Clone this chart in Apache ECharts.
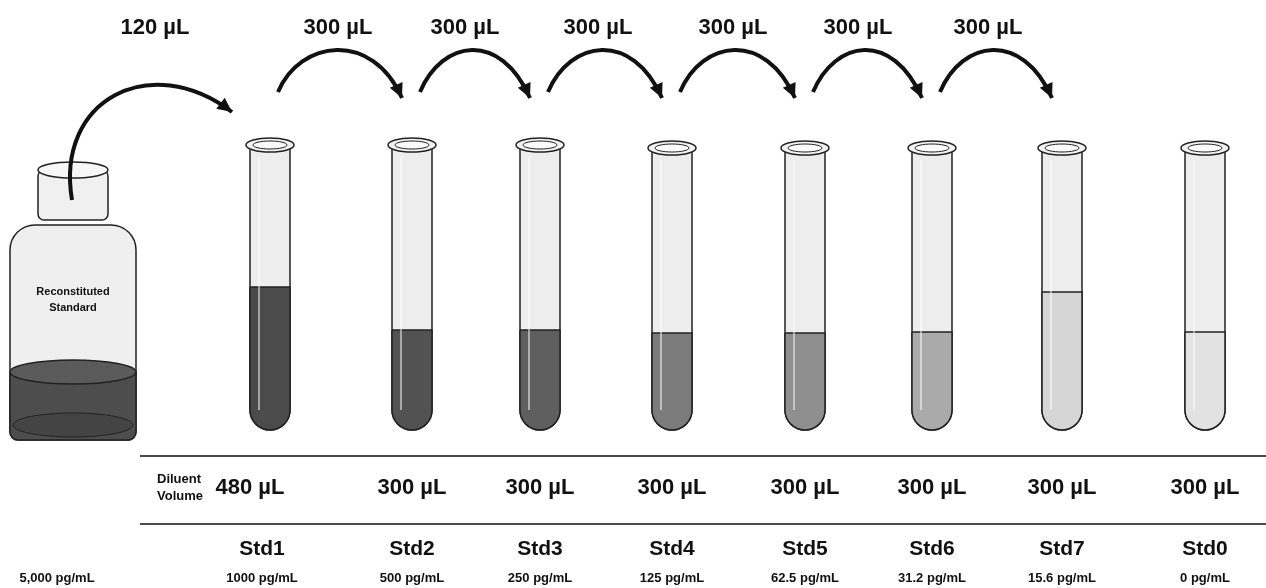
<!DOCTYPE html>
<html><head><meta charset="UTF-8">
<script src="https://cdn.jsdelivr.net/npm/echarts@6/dist/echarts.min.js"></script>
</head><body style="margin:0;background:#fff">
<div id="main" style="width:1266px;height:588px;"></div>
<script>
// tube data
var tubeNames = ['Std1','Std2','Std3','Std4','Std5','Std6','Std7','Std0'];
var tubeX = [270, 412, 540, 672, 805, 932, 1062, 1205];
var tubeTop = [145, 145, 145, 148, 148, 148, 148, 148];
var fillLevel = [287, 330, 330, 333, 333, 332, 292, 332];
var fillColor = ['#4b4b4b','#525252','#5f5f5f','#7b7b7b','#8f8f8f','#aaaaaa','#d6d6d6','#e2e2e2'];
var diluent = ['480 µL','300 µL','300 µL','300 µL','300 µL','300 µL','300 µL','300 µL'];
var concLabels = ['1000 pg/mL','500 pg/mL','250 pg/mL','125 pg/mL','62.5 pg/mL','31.2 pg/mL','15.6 pg/mL','0 pg/mL'];
var transferLabels = ['120 µL','300 µL','300 µL','300 µL','300 µL','300 µL','300 µL'];
var labelX = [155, 338, 465, 598, 733, 858, 988];
var stockConc = '5,000 pg/mL';
var tubeBottom = 430, tubeW = 40;

function arrowHead(x, y, ang) {
  var L = 16, s = 0.45;
  return [[x, y],
    [x - L*Math.cos(ang - s), y - L*Math.sin(ang - s)],
    [x - L*Math.cos(ang + s), y - L*Math.sin(ang + s)]];
}

var chart = echarts.init(document.getElementById('main'));
chart.setOption({
  animation: false,
  grid: {left: 0, right: 0, top: 0, bottom: 0},
  xAxis: {type: 'value', min: 0, max: 1266, show: false},
  yAxis: {type: 'value', min: 0, max: 588, inverse: true, show: false},
  series: [
    { // tubes
      type: 'custom',
      data: tubeX.map(function (x, i) { return [x, tubeTop[i], fillLevel[i], i]; }),
      renderItem: function (params, api) {
        var i = api.value(3);
        var c = api.coord([api.value(0), api.value(1)]);
        var lv = api.coord([0, api.value(2)])[1];
        var bt = api.coord([0, tubeBottom])[1];
        var x0 = c[0] - tubeW/2, r = tubeW/2;
        return {type: 'group', children: [
          {type: 'rect', shape: {x: x0, y: c[1], width: tubeW, height: bt - c[1], r: [0,0,r,r]},
            style: {fill: '#ededed', stroke: '#222', lineWidth: 1.5}},
          {type: 'rect', shape: {x: x0, y: lv, width: tubeW, height: bt - lv, r: [0,0,r,r]},
            style: {fill: fillColor[i], stroke: '#222', lineWidth: 1.5}},
          {type: 'ellipse', shape: {cx: c[0], cy: c[1], rx: r + 4, ry: 7},
            style: {fill: '#f2f2f2', stroke: '#222', lineWidth: 1.5}},
          {type: 'ellipse', shape: {cx: c[0], cy: c[1], rx: r - 3, ry: 4},
            style: {fill: '#fafafa', stroke: '#222', lineWidth: 1}},
          {type: 'line', shape: {x1: c[0] - r*0.55, y1: c[1] + 12, x2: c[0] - r*0.55, y2: bt - 20},
            style: {stroke: 'rgba(255,255,255,0.5)', lineWidth: 2}},
          {type: 'text', x: c[0] + (i === 0 ? -20 : 0), y: 488, style: {text: diluent[i], font: 'bold 22px Liberation Sans', fill: '#111', align: 'center', verticalAlign: 'middle'}},
          {type: 'text', x: c[0] - (i === 0 ? 8 : 0), y: 549, style: {text: tubeNames[i], font: 'bold 21px Liberation Sans', fill: '#111', align: 'center', verticalAlign: 'middle'}},
          {type: 'text', x: c[0] - (i === 0 ? 8 : 0), y: 578, style: {text: concLabels[i], font: 'bold 13px Liberation Sans', fill: '#111', align: 'center', verticalAlign: 'middle'}}
        ]};
      }
    },
    { // transfer arrows
      type: 'custom',
      data: labelX.map(function (x, i) { return [x, i]; }),
      renderItem: function (params, api) {
        var i = api.value(1);
        var lx = api.coord([api.value(0), 28]);
        var p1, p2, c1, c2;
        if (i === 0) {
          p1 = [72, 200]; c1 = [55, 100]; c2 = [150, 50]; p2 = [232, 112];
        } else {
          var a = tubeX[i-1], b = tubeX[i];
          p1 = [a + 8, 92]; c1 = [a + 30, 40]; c2 = [b - 40, 30]; p2 = [b - 10, 98];
        }
        var ang = Math.atan2(p2[1] - c2[1], p2[0] - c2[0]);
        return {type: 'group', children: [
          {type: 'bezierCurve', shape: {x1: p1[0], y1: p1[1], cpx1: c1[0], cpy1: c1[1], cpx2: c2[0], cpy2: c2[1], x2: p2[0], y2: p2[1]},
            style: {stroke: '#111', lineWidth: 4, fill: null}},
          {type: 'polygon', shape: {points: arrowHead(p2[0], p2[1], ang)}, style: {fill: '#111'}},
          {type: 'text', x: lx[0], y: lx[1], style: {text: transferLabels[i], font: 'bold 22px Liberation Sans', fill: '#111', align: 'center', verticalAlign: 'middle'}}
        ]};
      }
    }
  ],
  graphic: [
    // bottle
    {type: 'rect', shape: {x: 38, y: 170, width: 70, height: 50, r: 6}, style: {fill: '#f0f0f0', stroke: '#222', lineWidth: 1.5}},
    {type: 'ellipse', shape: {cx: 73, cy: 170, rx: 35, ry: 8}, style: {fill: '#f7f7f7', stroke: '#222', lineWidth: 1.5}},
    {type: 'rect', shape: {x: 10, y: 225, width: 126, height: 215, r: [25,25,8,8]}, style: {fill: '#efefef', stroke: '#222', lineWidth: 1.5}},
    {type: 'rect', shape: {x: 10, y: 372, width: 126, height: 68, r: [0,0,8,8]}, style: {fill: '#4d4d4d', stroke: '#222', lineWidth: 1.5}},
    {type: 'ellipse', shape: {cx: 73, cy: 372, rx: 63, ry: 12}, style: {fill: '#5a5a5a', stroke: '#222', lineWidth: 1.5}},
    {type: 'ellipse', shape: {cx: 73, cy: 425, rx: 60, ry: 12}, style: {fill: '#444', stroke: '#222', lineWidth: 1}},
    {type: 'text', x: 73, y: 300, style: {text: 'Reconstituted\nStandard', font: 'bold 11px Liberation Sans', fill: '#111', align: 'center', verticalAlign: 'middle', lineHeight: 16}},
    {type: 'text', x: 57, y: 578, style: {text: stockConc, font: 'bold 13px Liberation Sans', fill: '#111', align: 'center', verticalAlign: 'middle'}},
    // separators
    {type: 'line', shape: {x1: 140, y1: 456, x2: 1266, y2: 456}, style: {stroke: '#111', lineWidth: 1.5}},
    {type: 'line', shape: {x1: 140, y1: 524, x2: 1266, y2: 524}, style: {stroke: '#111', lineWidth: 1.5}},
    {type: 'text', x: 157, y: 488, style: {text: 'Diluent\nVolume', font: 'bold 13px Liberation Sans', fill: '#111', align: 'left', verticalAlign: 'middle', lineHeight: 17}}
  ]
});
</script>
</body></html>
